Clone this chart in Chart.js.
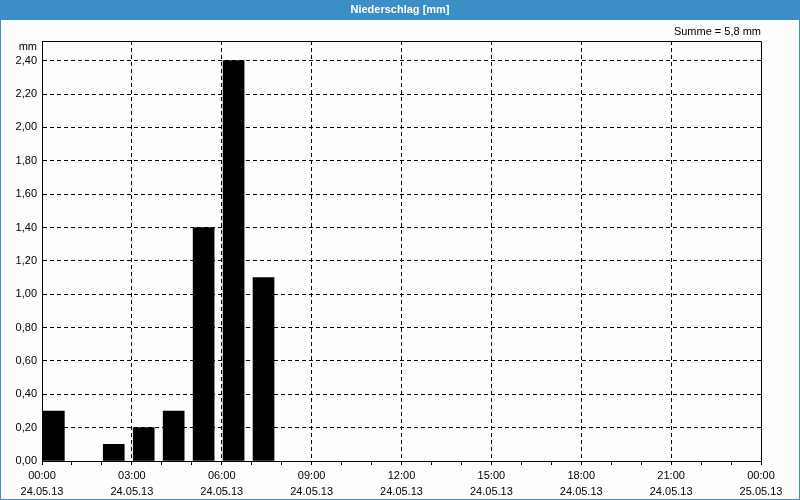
<!DOCTYPE html>
<html>
<head>
<meta charset="utf-8">
<script src="https://cdn.jsdelivr.net/npm/chart.js@4/dist/chart.umd.min.js"></script>
<style>
  html, body { margin: 0; padding: 0; background: #fcfdfc; }
  #wrap { width: 800px; height: 500px; }
</style>
</head>
<body>
<div id="wrap"><canvas id="rainChart" width="800" height="500"></canvas></div>
<script>
// hourly precipitation 24.05.13, mm
const hours = [0,1,2,3,4,5,6,7,8,9,10,11,12,13,14,15,16,17,18,19,20,21,22,23];
const rain = [0.3,0,0.1,0.2,0.3,1.4,2.4,1.1,0,0,0,0,0,0,0,0,0,0,0,0,0,0,0,0];
const timeLabels = ['00:00','03:00','06:00','09:00','12:00','15:00','18:00','21:00','00:00'];
const dateLabels = ['24.05.13','24.05.13','24.05.13','24.05.13','24.05.13','24.05.13','24.05.13','24.05.13','25.05.13'];
const yTicks = [0,0.2,0.4,0.6,0.8,1.0,1.2,1.4,1.6,1.8,2.0,2.2,2.4];
const titleText = 'Niederschlag [mm]';
const sumText = 'Summe = 5,8 mm';

const FONT = 'Liberation Sans, Arial, sans-serif';
const barShift = 0.395; // bars start just right of the hour line

const frame = {
  id: 'frame',
  beforeDraw(chart) {
    const c = chart.ctx;
    c.save();
    c.fillStyle = '#fcfdfc';
    c.fillRect(0, 0, chart.width, chart.height);
    c.fillStyle = '#3c8fc6';
    c.fillRect(0, 0, chart.width, 20);
    c.strokeStyle = '#3c8fc6';
    c.lineWidth = 1;
    c.strokeRect(0.5, 0.5, chart.width - 1, chart.height - 1);
    c.restore();
  },
  afterDraw(chart) {
    const c = chart.ctx, a = chart.chartArea;
    c.save();
    c.strokeStyle = '#000';
    c.lineWidth = 1;
    c.beginPath();
    c.moveTo(a.left, a.top + 0.5);
    c.lineTo(a.right + 0.5, a.top + 0.5);
    c.lineTo(a.right + 0.5, a.bottom);
    c.stroke();
    c.fillStyle = '#fff';
    c.font = 'bold 11px ' + FONT;
    c.textAlign = 'center';
    c.textBaseline = 'middle';
    c.fillText(titleText, chart.width / 2, 10);
    c.fillStyle = '#000';
    c.font = '11px ' + FONT;
    c.textAlign = 'right';
    c.fillText(sumText, a.right, 32);
    c.fillText('mm', a.left - 5, a.top + 6);
    c.restore();
  }
};

const ctx = document.getElementById('rainChart').getContext('2d');
const rainChart = new Chart(ctx, {
  type: 'bar',
  data: {
    datasets: [{
      label: 'Niederschlag',
      data: hours.map((h, i) => ({ x: h + barShift, y: rain[i] > 0 ? rain[i] : null })),
      backgroundColor: '#000',
      borderWidth: 0,
      barThickness: 21
    }]
  },
  options: {
    responsive: false,
    animation: false,
    layout: { padding: { top: 41, right: 39, left: 1, bottom: 1 } },
    plugins: { legend: { display: false }, tooltip: { enabled: false } },
    scales: {
      x: {
        type: 'linear',
        offset: false,
        min: 0,
        max: 24,
        afterFit(scale) { scale.height = 38; },
        afterBuildTicks(scale) {
          scale.ticks = [];
          for (let h = 0; h <= 24; h++) scale.ticks.push({ value: h });
        },
        border: { color: '#000', width: 1, dash: [4, 3] },
        grid: {
          offset: false,
          color: c => (c.tick && c.tick.value % 3 === 0 && c.tick.value > 0 && c.tick.value < 24) ? '#000' : 'rgba(0,0,0,0)',
          tickColor: '#000',
          tickLength: 4,
          tickBorderDash: []
        },
        ticks: {
          autoSkip: false,
          maxRotation: 0,
          padding: 3,
          color: '#000',
          font: { family: FONT, size: 11, lineHeight: 1.45 },
          callback: v => v % 3 === 0 ? [timeLabels[v / 3], dateLabels[v / 3]] : ''
        }
      },
      y: {
        min: 0,
        max: 2.518,
        afterFit(scale) { scale.width = 41; },
        afterBuildTicks(scale) { scale.ticks = yTicks.map(v => ({ value: v })); },
        border: { color: '#000', width: 1, dash: [4, 3] },
        grid: {
          color: c => (c.tick && c.tick.value > 0) ? '#000' : 'rgba(0,0,0,0)',
          drawTicks: false
        },
        ticks: {
          padding: 5,
          color: '#000',
          font: { family: FONT, size: 11 },
          callback: v => v.toFixed(2).replace('.', ',')
        }
      }
    }
  },
  plugins: [frame]
});
</script>
</body>
</html>
